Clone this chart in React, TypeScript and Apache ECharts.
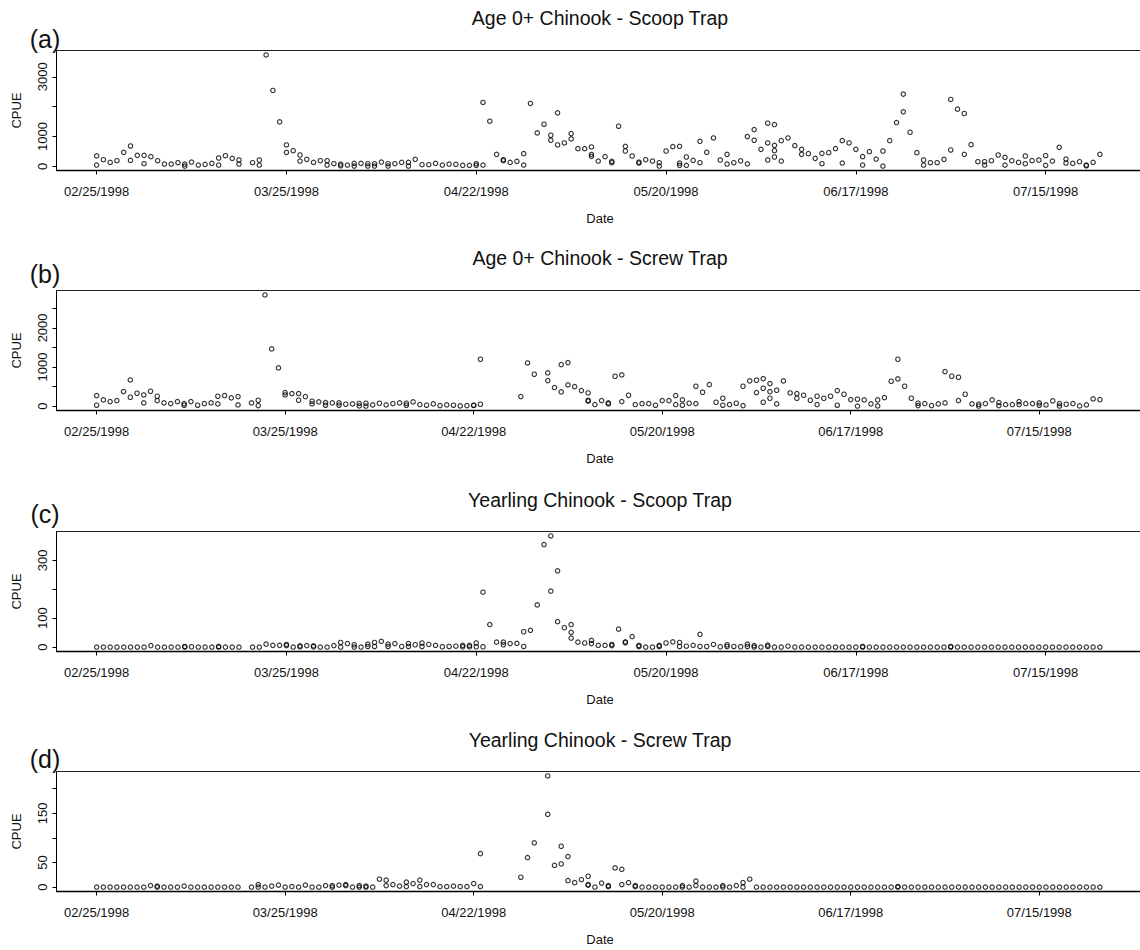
import React, { useEffect, useRef } from "react";
import * as echarts from "echarts";

// Day 0 = 02/25/1998; each entry lists the CPUE values observed that day ([] = no sample)
const tickDays = [0, 28, 56, 84, 112, 140];
const tickLabels = ["02/25/1998", "03/25/1998", "04/22/1998", "05/20/1998", "06/17/1998", "07/15/1998"];

const panelTitles = [
  "Age 0+ Chinook - Scoop Trap",
  "Age 0+ Chinook - Screw Trap",
  "Yearling Chinook - Scoop Trap",
  "Yearling Chinook - Screw Trap",
];
const panelLetters = ["(a)", "(b)", "(c)", "(d)"];

const age0Scoop: number[][] = [
  [350, 45], [224], [134], [190], [470], [683, 200], [370], [370, 90], [325], [190],
  [78], [78], [123], [78, 11], [145], [45], [67], [100], [280, 45], [358],
  [269], [213, 78], [], [123], [213, 45], [3730], [2542], [1490], [717, 470], [526],
  [381, 179], [235], [134], [190], [190, 45], [90], [78, 22], [45], [100, 11], [100],
  [90, 11], [90, 11], [145], [90, 11], [90], [134], [134, 11], [235], [56], [56],
  [100], [45], [78], [67], [34], [34], [90, 34], [2140, 45], [1512], [403],
  [224, 190], [134], [168], [426, 45], [2106], [1120], [1411], [1042, 874], [1792, 717], [784],
  [1098, 920], [594], [594], [650, 400, 336], [179], [325], [168, 123], [1344], [672, 515], [347],
  [145, 112], [224], [179], [123, 11], [515], [661], [672, 112, 34], [314, 34], [202], [840, 123],
  [470], [952], [213], [403, 78], [123], [185], [997, 85], [1232, 874], [571], [1445, 784, 213],
  [1400, 706, 526, 314], [862, 179], [952], [694], [571, 403], [426], [269], [437, 90], [459], [594],
  [862, 112], [784], [571], [325, 45], [493], [246], [515, 11], [862], [1467], [2419, 1826],
  [1142], [459], [213, 45], [123], [123], [235], [2240, 549], [1915], [1770, 403], [728],
  [157], [157, 45], [190], [381], [302, 45], [190], [134], [347, 90], [190], [213],
  [358, 34], [179], [638], [246, 112], [100], [157], [45, 22], [134], [403],
];

const age0Screw: number[][] = [
  [272, 26], [162], [119], [145], [374], [672, 230], [332], [289, 85], [383], [255, 145],
  [85], [68], [119], [68, 26], [119], [26], [68], [85], [255, 60], [272],
  [213], [247, 34], [], [85], [153, 17], [2842], [1464], [979], [349, 289], [323],
  [323, 153], [247], [128, 60], [111], [94, 26], [85], [85, 26], [51], [60], [72, 9],
  [77, 5], [34], [77], [34], [68], [85], [77, 26], [111], [43], [26],
  [60], [17], [34], [26], [9], [17], [26, 20], [1200, 51], [], [],
  [], [], [], [247], [1106], [817], [], [851, 655], [477], [1064, 366],
  [1115, 545], [502], [400], [340, 153, 130], [43], [145], [85, 60], [766], [800, 119], [281],
  [43], [68], [68], [26], [145], [145], [272, 43], [162, 26], [77], [511, 68],
  [357], [553], [102], [204, 26], [43], [77], [511, 17], [647], [664, 349], [706, 460, 102],
  [579, 374, 204], [408, 60], [647], [340], [323, 204], [281], [153], [255, 43], [204], [255],
  [400, 26], [306], [170], [179, 5], [162], [60], [162, 9], [221], [638], [1200, 698],
  [511], [204], [77, 17], [68], [17], [60], [885, 85], [766], [740, 145], [306],
  [60], [51, 5], [68], [162], [94, 17], [43], [43], [119, 43], [68], [68],
  [85, 26], [34], [136], [68, 5], [51], [68], [9], [34], [187], [170],
];

const yearlingScoop: number[][] = [
  [0], [0], [0], [0], [0], [0], [0], [0], [5], [0],
  [0], [0], [0], [2, 0], [1], [0], [0], [0], [2, 0], [0],
  [0], [0], [], [0], [0], [10], [6], [6], [9, 5], [0],
  [4, 1], [5], [4, 1], [0], [0], [5], [16, 0], [12], [8, 0], [0],
  [10, 2], [16, 2], [20], [10, 2], [12], [2], [12, 2], [8], [14, 2], [9],
  [6], [1], [2], [3], [6, 1], [6, 1], [14, 1], [190, 1], [78], [17],
  [17, 8], [12], [13], [53, 2], [58], [146], [355], [385, 194], [264, 88], [67],
  [78, 51, 31], [17], [14], [23, 12], [6], [6], [9, 5], [62], [18, 15], [36],
  [6, 2], [0], [0], [6, 2], [14], [18], [16, 2], [3], [6], [44, 2],
  [2], [9], [1], [8, 2], [2], [1], [10, 2], [5, 0], [0], [7, 2],
  [0], [0], [3], [0], [0], [0], [0], [0], [0], [0],
  [0], [0], [0], [2, 0], [0], [0], [0], [0], [0], [0],
  [0], [0], [0], [0], [0], [0], [2, 0], [0], [0], [0],
  [0], [0], [0], [0], [0], [0], [0], [0], [0], [0],
  [0], [0], [0], [0], [0], [0], [0], [0], [0],
];

const yearlingScrew: number[][] = [
  [0], [0], [0], [0], [0], [0], [0], [0], [3], [2, 0],
  [0], [0], [0], [2], [0], [0], [0], [0], [0], [0],
  [0], [0], [], [0], [5, 0], [0], [2], [4], [0], [1],
  [0], [4], [0], [0], [3], [3, 0], [4], [5, 3], [0], [3, 0],
  [2, 0], [0], [16], [14, 3], [5], [2], [10, 1], [7], [14, 1], [5],
  [5], [1], [1], [2], [1], [1], [7], [68, 1], [], [],
  [], [], [], [20], [60], [90], [], [226, 148], [44], [83, 47],
  [62, 13], [9], [15], [22, 5, 4], [0], [8], [3, 1], [39], [36, 5], [9],
  [3, 1], [0], [0], [0], [0], [0], [0], [3, 0], [0], [12, 3],
  [0], [0], [0], [3, 0], [0], [3], [9, 0], [16], [0], [0],
  [0], [0], [0], [0], [0], [0], [0], [0], [0], [0],
  [0], [0], [0], [0], [0], [0], [0], [0], [0], [1, 0],
  [0], [0], [0], [0], [0], [0], [0], [0], [0], [0],
  [0], [0], [0], [0], [0], [0], [0], [0], [0], [0],
  [0], [0], [0], [0], [0], [0], [0], [0], [0], [0],
];

const yTickValues = [
  [0, 1000, 2000, 3000],
  [0, 500, 1000, 1500, 2000, 2500],
  [0, 100, 200, 300],
  [0, 50, 100, 150, 200],
];
const yLabelValues = [
  [0, 1000, 3000],
  [0, 1000, 2000],
  [0, 100, 300],
  [0, 50, 150],
];

const panelData = [age0Scoop, age0Screw, yearlingScoop, yearlingScrew];

const FONT = "'Liberation Sans', Arial, Helvetica, sans-serif";
const GRID_LEFT = 56.5;
const GRID_W = 1086.5;
const GRID_H = 120;
const GRID_TOPS = [50.5, 290.5, 531.5, 771.5];
const TITLE_Y = [17.5, 257.8, 499.7, 739.5];
const LETTER_Y = [39, 274, 514, 759];
const CENTER_X = 600;

function padRange(values: number[]): [number, number] {
  const lo = Math.min(...values);
  const hi = Math.max(...values);
  const pad = 0.04 * (hi - lo);
  return [lo - pad, hi + pad];
}

function textEl(text: string, x: number, y: number, fontSize: number, rotation = 0) {
  return {
    type: "text",
    x,
    y,
    rotation,
    silent: true,
    style: {
      text,
      fontSize,
      fontFamily: FONT,
      fill: "#111",
      textAlign: "center",
      textVerticalAlign: "middle",
      align: "center",
      verticalAlign: "middle",
    },
  };
}

export default function App() {
  const ref = useRef<HTMLDivElement>(null);

  useEffect(() => {
    document.body.style.margin = "0";
    if (!ref.current) return;
    const chart = echarts.init(ref.current, undefined, { renderer: "svg" });

    const grids = panelData.map((_, k) => ({
      left: GRID_LEFT,
      top: GRID_TOPS[k],
      width: GRID_W,
      height: GRID_H,
      show: false,
    }));

    const xAxes: any[] = [];
    panelData.forEach((days, k) => {
      const last = days.length - 1;
      xAxes.push({
        type: "value",
        gridIndex: k,
        position: "bottom",
        min: -0.04 * last,
        max: last * 1.04,
        axisLine: { show: true, onZero: false, lineStyle: { color: "#000", width: 1.3 } },
        axisTick: { show: true, length: 4, customValues: tickDays, lineStyle: { color: "#000", width: 1 } },
        axisLabel: {
          customValues: tickDays,
          formatter: (v: number) => {
            const idx = tickDays.indexOf(Math.round(v));
            return idx >= 0 ? tickLabels[idx] : "";
          },
          margin: 14,
          fontSize: 13,
          color: "#111",
          fontFamily: FONT,
        },
        splitLine: { show: false },
      });
    });
    // top frame line of each panel
    panelData.forEach((days, k) => {
      const last = days.length - 1;
      xAxes.push({
        type: "value",
        gridIndex: k,
        position: "top",
        min: -0.04 * last,
        max: last * 1.04,
        axisLine: { show: true, onZero: false, lineStyle: { color: "#222", width: 1 } },
        axisTick: { show: false },
        axisLabel: { show: false },
        splitLine: { show: false },
      });
    });

    const yAxes = panelData.map((days, k) => {
      const [lo, hi] = padRange(days.flat());
      return {
        type: "value",
        gridIndex: k,
        min: lo,
        max: hi,
        axisLine: { show: true, onZero: false, lineStyle: { color: "#000", width: 1 } },
        axisTick: { show: true, length: 4, customValues: yTickValues[k], lineStyle: { color: "#000", width: 1 } },
        axisLabel: {
          customValues: yLabelValues[k],
          formatter: (v: number) => String(Math.round(v)),
          rotate: 90,
          margin: 8,
          fontSize: 13,
          color: "#111",
          fontFamily: FONT,
        },
        splitLine: { show: false },
      };
    });

    const series = panelData.map((days, k) => ({
      type: "scatter",
      xAxisIndex: k,
      yAxisIndex: k,
      symbol: "circle",
      symbolSize: 4.4,
      silent: true,
      itemStyle: { color: "rgba(0,0,0,0)", borderColor: "#000", borderWidth: 1.15 },
      data: days.flatMap((vals, i) => vals.map((v) => [i, v])),
    }));

    const graphics: any[] = [];
    panelData.forEach((_, k) => {
      graphics.push(textEl(panelTitles[k], CENTER_X, TITLE_Y[k], 19.5));
      graphics.push(textEl(panelLetters[k], 45, LETTER_Y[k], 25));
      graphics.push(textEl("CPUE", 16.7, GRID_TOPS[k] + GRID_H / 2, 13, Math.PI / 2));
      graphics.push(textEl("Date", CENTER_X, GRID_TOPS[k] + GRID_H + 47.6, 13));
    });

    chart.setOption({
      animation: false,
      backgroundColor: "#fff",
      grid: grids,
      xAxis: xAxes,
      yAxis: yAxes,
      series,
      graphic: graphics,
    });

    return () => chart.dispose();
  }, []);

  return <div ref={ref} style={{ width: 1140, height: 950 }} />;
}
